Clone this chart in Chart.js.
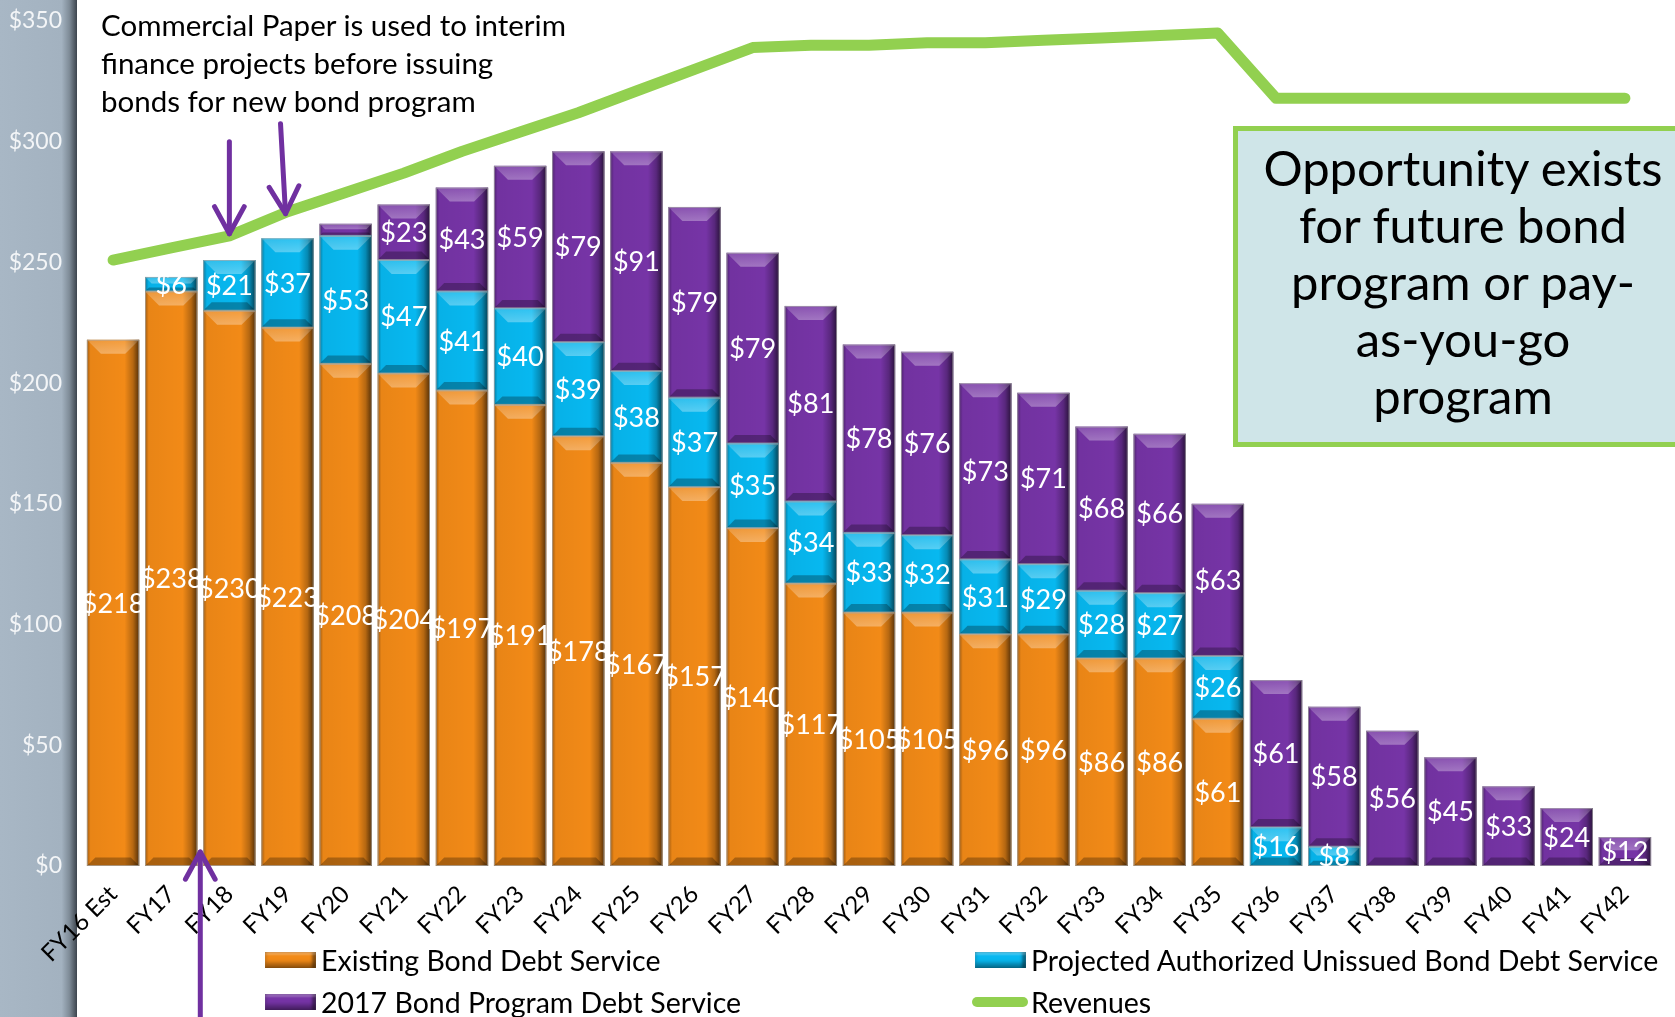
<!DOCTYPE html>
<html>
<head>
<meta charset="utf-8">
<script src="https://cdn.jsdelivr.net/npm/chart.js@4.4.1/dist/chart.umd.min.js"></script>
<style>
html, body { margin:0; padding:0; background:#fff; overflow:hidden; }
#wrap { position:relative; width:1675px; height:1017px; overflow:hidden; }
#band { position:absolute; left:0; top:0; width:77px; height:1017px;
  background:linear-gradient(to right,#a8b7c5 0,#a3b2c0 80%,#7f8c98 90%,#3c444d 100%); }
#cv { position:absolute; left:0; top:0; }
.note { position:absolute; left:101px; top:6px; font-family:Lato, sans-serif; font-size:29.5px; line-height:38px; color:#000; }
.box { position:absolute; left:1233px; top:126px; width:450px; height:301px; padding-bottom:10px; border:5px solid #92d050; background:#cfe5e8;
  font-family:Lato, sans-serif; font-size:49px; line-height:57px; color:#000; text-align:center;
  display:flex; align-items:center; justify-content:center; }
.lg { position:absolute; font-family:Lato, sans-serif; font-size:28.5px; color:#000; white-space:nowrap; }
.sw { position:absolute; }
</style>
</head>
<body>
<div id="wrap">
  <div id="band"></div>
  <canvas id="cv" width="1675" height="1017"></canvas>
  <div class="note">Commercial Paper is used to interim<br>finance projects before issuing<br>bonds for new bond program</div>
  <div class="box"><div>Opportunity exists<br>for future bond<br>program or pay-<br>as-you-go<br>program</div></div>
  <div id="legend"></div>
</div>
<script>
// categories and values ($ millions)
var categories = ['FY16 Est','FY17','FY18','FY19','FY20','FY21','FY22','FY23','FY24','FY25','FY26','FY27','FY28','FY29',
  'FY30','FY31','FY32','FY33','FY34','FY35','FY36','FY37','FY38','FY39','FY40','FY41','FY42'];
var existing   = [218,238,230,223,208,204,197,191,178,167,157,140,117,105,105,96,96,86,86,61,0,0,0,0,0,0,0];
var projected  = [0,6,21,37,53,47,41,40,39,38,37,35,34,33,32,31,29,28,27,26,16,8,0,0,0,0,0];
var program17  = [0,0,0,0,5,23,43,59,79,91,79,79,81,78,76,73,71,68,66,63,61,58,56,45,33,24,12];
var revenues   = [251,256,261,271,279,287,296,304,312,321,330,339,340,340,341,341,342,343,344,345,318,318,318,318,318,318,318];
var yTicks = [0,50,100,150,200,250,300,350];

var ORANGE = '#f28a17', BLUE = '#07b8f0', PURPLE = '#7634a6', GREEN = '#92d050', ARROW = '#7030a0';

function bevel(ctx, x0, x1, top, bottom) {
  var w = x1 - x0, h = bottom - top;
  if (h < 1) return;
  var b = Math.min(14, h / 2.2, w / 3);
  ctx.save();
  var g = ctx.createLinearGradient(x0, 0, x1, 0);
  g.addColorStop(0, 'rgba(0,0,0,0.35)');
  g.addColorStop(0.07, 'rgba(0,0,0,0.04)');
  g.addColorStop(0.72, 'rgba(0,0,0,0)');
  g.addColorStop(0.88, 'rgba(0,0,0,0.25)');
  g.addColorStop(1, 'rgba(0,0,0,0.65)');
  ctx.fillStyle = g;
  ctx.fillRect(x0, top, w, h);
  // top bevel, lighter
  ctx.beginPath();
  ctx.moveTo(x0, top); ctx.lineTo(x1, top); ctx.lineTo(x1 - b, top + b); ctx.lineTo(x0 + b, top + b); ctx.closePath();
  var tg = ctx.createLinearGradient(0, top, 0, top + b);
  tg.addColorStop(0, 'rgba(255,255,255,0.15)');
  tg.addColorStop(1, 'rgba(255,255,255,0.32)');
  ctx.fillStyle = tg; ctx.fill();
  // bottom bevel, darker
  var bb = b * 0.6;
  ctx.beginPath();
  ctx.moveTo(x0, bottom); ctx.lineTo(x1, bottom); ctx.lineTo(x1 - bb, bottom - bb); ctx.lineTo(x0 + bb, bottom - bb); ctx.closePath();
  ctx.fillStyle = 'rgba(0,0,0,0.28)'; ctx.fill();
  ctx.strokeStyle = 'rgba(170,170,170,0.7)';
  ctx.lineWidth = 1;
  ctx.strokeRect(x0 + 0.5, top + 0.5, w - 1, h - 1);
  ctx.restore();
}

function arrow(ctx, x0, y0, x1, y1) {
  var a = Math.atan2(y1 - y0, x1 - x0), L = 31, s = 0.5;
  ctx.save();
  ctx.strokeStyle = ARROW; ctx.lineWidth = 5; ctx.lineCap = 'round'; ctx.lineJoin = 'round';
  ctx.beginPath(); ctx.moveTo(x0, y0); ctx.lineTo(x1, y1); ctx.stroke();
  ctx.beginPath();
  ctx.moveTo(x1 - L * Math.cos(a - s), y1 - L * Math.sin(a - s));
  ctx.lineTo(x1, y1);
  ctx.lineTo(x1 - L * Math.cos(a + s), y1 - L * Math.sin(a + s));
  ctx.stroke();
  ctx.restore();
}

var bevelPlugin = {
  id: 'bevel',
  afterDatasetDraw: function (chart, args) {
    var meta = args.meta;
    if (meta.type !== 'bar') return;
    var ctx = chart.ctx;
    meta.data.forEach(function (el) {
      var p = el.getProps(['x', 'y', 'base', 'width'], true);
      bevel(ctx, p.x - p.width / 2, p.x + p.width / 2, Math.min(p.y, p.base), Math.max(p.y, p.base));
    });
  },
  afterDatasetsDraw: function (chart) {
    var ctx = chart.ctx;
    ctx.save();
    ctx.font = '27px Lato, sans-serif';
    ctx.fillStyle = '#ffffff';
    ctx.textAlign = 'center';
    ctx.textBaseline = 'middle';
    chart.data.datasets.forEach(function (ds, i) {
      if (ds.type === 'line') return;
      chart.getDatasetMeta(i).data.forEach(function (el, j) {
        var v = ds.data[j];
        if (v < 6) return;
        var p = el.getProps(['x', 'y', 'base'], true);
        ctx.fillText('$' + v, p.x, (p.y + p.base) / 2 + 1);
      });
    });
    ctx.restore();
  },
  afterDraw: function (chart) {
    var ctx = chart.ctx, xs = chart.scales.x, ys = chart.scales.y;
    var ax = xs.getPixelForValue(2), ay = ys.getPixelForValue(revenues[2]);
    arrow(ctx, ax, ay - 94, ax, ay - 2);
    var bx = xs.getPixelForValue(3), by = ys.getPixelForValue(revenues[3]);
    arrow(ctx, bx - 7, by - 88, bx - 2, by + 2);
    var cx = xs.getPixelForValue(1.5), cy = ys.getPixelForValue(0);
    arrow(ctx, cx, 1030, cx, cy - 14);
  }
};

var chart = new Chart(document.getElementById('cv'), {
  data: {
    labels: categories,
    datasets: [
      { type: 'line', label: 'Revenues', data: revenues, borderColor: GREEN, backgroundColor: GREEN,
        borderWidth: 11, borderCapStyle: 'round', borderJoinStyle: 'round', pointRadius: 0, tension: 0, order: 0 },
      { type: 'bar', label: 'Existing Bond Debt Service', data: existing, backgroundColor: ORANGE, borderWidth: 0,
        barPercentage: 0.9, categoryPercentage: 1, order: 1 },
      { type: 'bar', label: 'Projected Authorized Unissued Bond Debt Service', data: projected, backgroundColor: BLUE, borderWidth: 0,
        barPercentage: 0.9, categoryPercentage: 1, order: 1 },
      { type: 'bar', label: '2017 Bond Program Debt Service', data: program17, backgroundColor: PURPLE, borderWidth: 0,
        barPercentage: 0.9, categoryPercentage: 1, order: 1 }
    ]
  },
  options: {
    responsive: false,
    animation: false,
    layout: { padding: { top: 21, right: 21, left: 0, bottom: 0 } },
    plugins: { legend: { display: false }, tooltip: { enabled: false } },
    scales: {
      x: {
        stacked: true,
        grid: { display: false, drawTicks: false },
        border: { display: false },
        ticks: { autoSkip: false, minRotation: 45, maxRotation: 45, padding: 14, color: '#000',
          font: { family: 'Lato, sans-serif', size: 24 } },
        afterFit: function (s) { s.height = 151; }
      },
      y: {
        stacked: true, min: 0, max: 350,
        // hidden tick marks keep the labels clear of the bars without adding top padding
        grid: { display: false, drawTicks: true, tickLength: 22 },
        border: { display: false },
        afterBuildTicks: function (s) { s.ticks = yTicks.map(function (v) { return { value: v }; }); },
        ticks: { padding: 0, color: '#f3f5f7', font: { family: 'Lato, sans-serif', size: 23 },
          callback: function (v) { return '$' + v; } },
        afterFit: function (s) { s.width = 84; }
      }
    }
  },
  plugins: [bevelPlugin]
});

// legend in a 2x2 layout, built from the chart datasets
var legendPos = {
  'Existing Bond Debt Service': [265, 960],
  'Projected Authorized Unissued Bond Debt Service': [975, 960],
  '2017 Bond Program Debt Service': [265, 1002],
  'Revenues': [975, 1002]
};
var lg = document.getElementById('legend');
chart.data.datasets.forEach(function (ds) {
  var pos = legendPos[ds.label];
  var sw = document.createElement('div');
  sw.className = 'sw';
  if (ds.type === 'line') {
    sw.style.cssText = 'left:' + (pos[0] - 3) + 'px;top:' + (pos[1] - 5) + 'px;width:56px;height:10px;border-radius:5px;background:' + ds.borderColor;
  } else {
    sw.style.cssText = 'left:' + pos[0] + 'px;top:' + (pos[1] - 8) + 'px;width:51px;height:16px;background:' + ds.backgroundColor +
      ';box-shadow:inset 0 -5px 4px rgba(0,0,0,0.35), inset 0 3px 2px rgba(255,255,255,0.25), inset -4px 0 3px rgba(0,0,0,0.4)';
  }
  lg.appendChild(sw);
  var t = document.createElement('div');
  t.className = 'lg';
  t.style.left = (pos[0] + 56) + 'px';
  t.style.top = (pos[1] - 17) + 'px';
  t.style.lineHeight = '34px';
  t.textContent = ds.label;
  lg.appendChild(t);
});
</script>
</body>
</html>
